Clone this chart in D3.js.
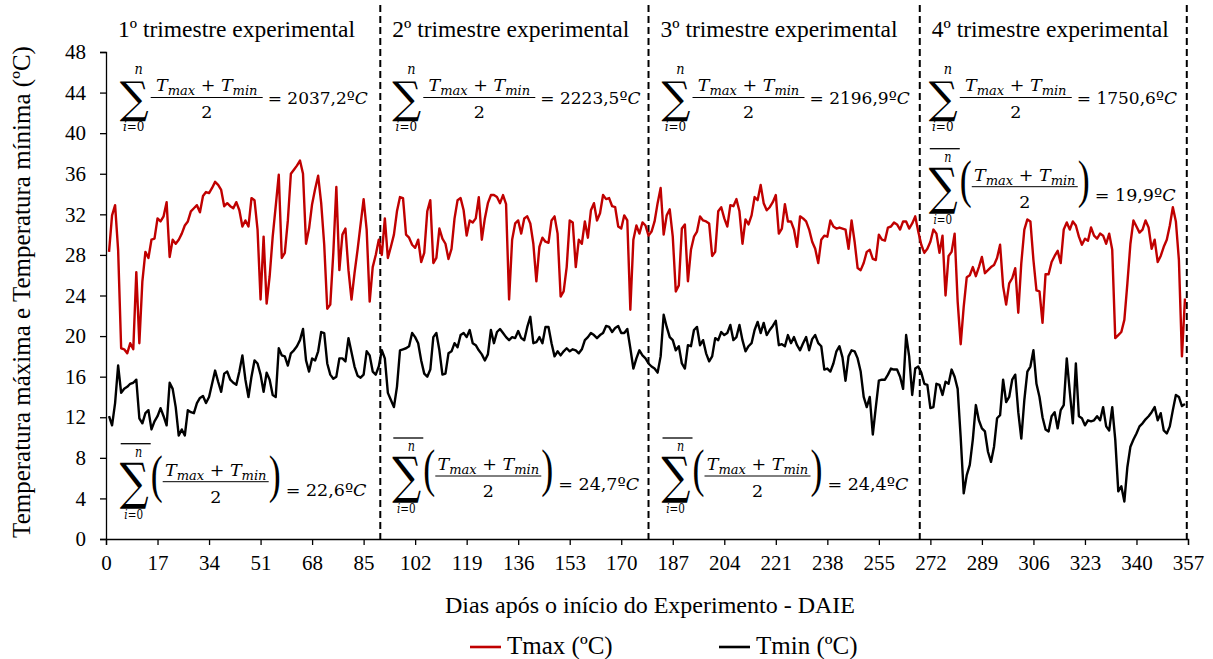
<!DOCTYPE html>
<html><head><meta charset="utf-8">
<script src="https://cdn.jsdelivr.net/npm/d3@7"></script>
<style>body{margin:0;background:#fff}svg{display:block}</style>
</head><body>
<svg id="chart" width="1213" height="659"></svg>
<script>
// ---------------- DATA ----------------
// Daily values, day 1 .. 356
const tmax = [
28.3,31.9,32.9,28.5,18.8,18.7,18.3,19.3,18.7,26.3,
19.3,25.4,28.3,27.7,29.5,29.6,31.6,31.3,31.8,33.2,
27.8,29.5,29.1,29.5,30.1,30.9,31.3,32.3,32.6,32.9,
32.2,33.8,34.2,34.1,34.6,35.2,34.9,34.4,32.8,33.1,
32.8,32.6,33.2,32.4,30.8,31.4,30.8,33.6,33.4,30.5,
23.6,29.8,23.2,25.9,29.8,32.8,35.9,27.7,28.2,31.4,
36.0,36.4,36.8,37.3,36.0,29.1,30.6,33.0,34.5,35.8,
33.1,29.0,22.7,23.1,28.2,34.7,26.5,30.0,30.6,26.5,
23.6,26.2,28.5,31.0,33.5,30.5,23.4,26.8,28.0,29.5,
28.0,31.6,27.7,28.8,30.0,32.3,33.7,33.6,30.0,29.7,
29.0,28.7,29.5,27.3,28.2,32.3,33.4,27.2,27.7,30.6,
29.6,29.1,27.6,28.6,31.6,33.4,33.6,32.4,29.9,31.4,
31.2,31.6,33.7,29.5,31.6,33.1,33.9,33.9,33.7,33.1,
33.9,33.0,23.6,29.5,31.1,31.4,30.1,31.6,31.8,31.1,
29.1,25.4,28.8,29.7,29.3,29.2,31.4,31.8,30.1,23.9,
24.4,26.8,31.4,31.2,26.8,29.5,29.1,31.3,29.7,32.4,
33.1,31.4,32.1,33.9,33.5,33.6,32.8,32.7,30.8,30.6,
31.9,31.4,22.6,29.5,30.9,30.1,31.2,30.9,29.9,30.3,
31.3,33.1,34.6,30.0,31.9,32.5,29.8,24.4,25.0,30.6,
31.0,25.4,28.5,29.8,30.3,31.8,31.4,31.3,31.1,27.9,
28.3,32.3,32.7,31.6,30.8,32.9,32.8,33.5,32.3,29.1,
31.5,31.0,31.9,33.7,33.4,34.9,33.1,32.4,32.7,33.2,
33.9,30.1,30.6,33.0,31.3,31.3,30.5,28.8,31.8,31.6,
31.3,30.5,29.3,28.6,27.2,29.5,29.9,29.8,31.4,30.8,
30.6,30.7,30.6,30.5,28.6,31.4,29.3,26.7,26.5,27.2,
28.3,28.5,27.6,27.5,30.0,29.5,29.4,30.7,30.8,31.2,
31.0,30.5,31.3,31.3,30.6,31.1,31.8,30.3,29.0,28.2,
28.6,29.3,30.5,30.1,28.2,29.9,24.0,27.9,28.3,30.1,
23.4,19.2,22.9,25.8,26.0,26.8,25.9,26.8,27.8,26.2,
26.5,26.8,27.0,27.7,29.0,24.9,23.1,25.2,25.7,26.7,
22.3,27.2,30.5,31.5,31.3,27.5,24.5,24.4,21.3,26.1,
26.1,27.3,27.9,28.4,27.2,30.5,31.2,30.5,31.3,30.9,
29.8,29.0,29.6,29.4,30.7,29.9,29.6,30.1,29.9,29.1,
30.1,28.5,19.8,20.1,20.4,21.6,25.2,29.1,31.4,30.8,
30.2,30.5,31.4,30.7,28.6,29.5,27.3,27.9,28.8,29.5,
30.9,32.7,31.3,27.5,18.0,23.7
];
const tmin = [
12.1,11.2,13.4,17.1,14.4,14.8,15.0,15.3,15.4,15.7,
11.9,11.4,12.4,12.7,10.8,11.6,12.1,12.9,12.1,11.2,
15.4,14.8,13.0,10.2,10.8,10.2,12.7,12.5,12.4,13.4,
13.9,14.1,13.4,14.0,15.3,16.6,15.5,14.5,16.3,16.5,
15.7,15.4,15.2,16.5,18.1,15.7,14.0,16.0,17.6,17.3,
16.2,14.5,16.4,15.7,14.2,14.0,18.8,18.1,18.0,17.1,
18.3,18.6,19.0,19.6,20.7,17.6,16.5,17.8,17.6,18.5,
20.4,20.3,17.3,16.2,15.8,16.0,17.8,17.8,17.5,19.8,
18.4,17.0,16.1,15.9,16.2,18.5,18.1,16.5,16.2,17.0,
18.6,17.8,14.4,13.7,13.0,15.0,18.6,18.7,18.8,19.0,
20.3,19.9,19.3,17.6,16.3,16.0,16.7,19.9,20.3,18.6,
16.2,16.3,18.3,18.5,19.3,18.9,20.1,20.3,19.9,20.6,
19.3,19.1,18.6,18.2,17.6,18.2,20.6,19.3,20.4,20.7,
20.3,19.9,19.6,19.9,19.8,20.5,19.8,19.6,20.9,21.9,
19.3,19.4,19.9,19.3,20.9,20.9,19.3,18.0,18.5,18.1,
18.5,18.8,18.5,18.7,18.6,18.3,18.7,19.6,19.9,20.3,
20.1,19.8,20.1,20.3,21.0,20.9,20.4,20.8,21.0,20.3,
20.3,20.7,18.8,16.8,17.8,18.6,18.1,17.8,17.3,17.0,
16.8,16.4,18.0,22.1,20.9,19.9,19.6,18.6,19.0,17.3,
16.8,19.1,19.0,20.6,20.9,19.1,19.6,18.3,17.5,18.0,
19.8,19.6,20.4,20.1,20.3,21.1,19.6,19.9,21.1,19.6,
18.5,19.0,19.3,20.6,21.4,20.3,21.3,20.1,20.6,21.0,
21.5,19.1,19.2,19.0,20.1,19.3,19.9,19.1,18.6,19.3,
19.9,18.6,19.7,20.1,19.3,19.0,16.7,16.8,16.5,17.3,
18.5,19.0,17.9,15.6,18.0,18.6,18.5,17.8,16.5,14.0,
13.0,14.0,10.3,13.0,15.6,15.7,15.7,16.2,16.8,16.7,
16.7,16.0,14.8,20.1,18.0,14.2,16.8,17.0,16.4,15.3,
15.2,12.9,13.0,15.3,15.2,14.2,15.5,15.3,16.7,16.0,
14.8,10.0,4.5,6.3,7.3,9.8,13.2,11.7,10.9,10.6,
8.6,7.6,9.1,11.9,12.2,15.7,13.5,14.0,15.7,16.2,
12.5,9.9,13.7,16.5,17.0,18.6,15.3,14.0,12.0,10.8,
10.6,12.1,12.5,10.9,12.7,13.2,17.8,14.5,11.4,17.3,
12.1,11.9,11.2,11.7,11.6,11.7,12.1,11.7,13.0,11.1,
10.7,13.0,9.8,4.7,5.2,3.7,7.1,9.1,9.8,10.4,
11.1,11.4,11.8,12.1,12.5,13.0,11.7,12.4,10.7,10.4,
11.1,12.7,14.2,14.0,13.1,13.3
];
const firstDay = 1;
const xTicks = d3.range(0, 358, 17);              // 0,17,...,357
const yTicks = d3.range(0, 49, 4);                // 0..48
const quarterEnds = [90.5, 179, 268.5, 356.6];    // day positions of dashed separators
const quarterTitles = ["1º trimestre experimental","2º trimestre experimental","3º trimestre experimental","4º trimestre experimental"];
const sumValues = ["2037,2ºC","2223,5ºC","2196,9ºC","1750,6ºC"];
const meanValues = ["22,6ºC","24,7ºC","24,4ºC","19,9ºC"];
const seriesNames = ["Tmax (ºC)","Tmin (ºC)"];
const seriesColors = ["#C00000","#000000"];

// ---------------- CHART ----------------
const svg = d3.select("#chart");
const SERIF = "'Liberation Serif','Times New Roman',serif";
const MATH = "'DejaVu Serif',serif";
const x = d3.scaleLinear().domain([0, 357]).range([106, 1188]);
const y = d3.scaleLinear().domain([0, 48]).range([539, 52]);

// axes
const gy = svg.append("g").attr("transform", `translate(${x(0)},0)`)
  .call(d3.axisLeft(y).tickValues(yTicks).tickSize(6).tickPadding(14).tickFormat(d3.format("d")));
const gx = svg.append("g").attr("transform", `translate(0,${y(0)})`)
  .call(d3.axisBottom(x).tickValues(xTicks).tickSize(6).tickPadding(10).tickFormat(d3.format("d")));
[gx, gy].forEach(g => {
  g.selectAll("path,line").attr("stroke", "#000").attr("stroke-width", 1.3);
  g.selectAll("text").attr("font-family", SERIF).attr("font-size", 21).attr("fill", "#000");
});

// axis titles
svg.append("text").attr("transform", `translate(30,292) rotate(-90)`)
  .attr("text-anchor", "middle").attr("font-family", SERIF).attr("font-size", 25)
  .text("Temperatura máxima e Temperatura mínima (ºC)");
svg.append("text").attr("x", 650).attr("y", 613).attr("text-anchor", "middle")
  .attr("font-family", SERIF).attr("font-size", 24)
  .text("Dias após o início do Experimento - DAIE");

// quarter separators
svg.append("g").selectAll("line").data(quarterEnds).join("line")
  .attr("x1", d => x(d)).attr("x2", d => x(d)).attr("y1", 5).attr("y2", y(0))
  .attr("stroke", "#000").attr("stroke-width", 2).attr("stroke-dasharray", "7,4");

// lines
const days = tmax.map((_, i) => i + firstDay);
const line = d3.line().x((d, i) => x(days[i])).y(d => y(d));
[tmax, tmin].forEach((s, k) => {
  svg.append("path").datum(s).attr("d", line).attr("fill", "none")
    .attr("stroke", seriesColors[k]).attr("stroke-width", 2.4).attr("stroke-linejoin", "round");
});

// quarter titles
const qStarts = [0].concat(quarterEnds.slice(0, 3));
svg.append("g").selectAll("text").data(quarterTitles).join("text")
  .attr("x", (d, i) => x(qStarts[i]) + 12).attr("y", 37)
  .attr("font-family", SERIF).attr("font-size", 23.5).text(d => d);

// ---------- formula helpers ----------
function mtext(g, px, py, anchor, parts, size) {
  const t = g.append("text").attr("x", px).attr("y", py).attr("text-anchor", anchor)
    .attr("font-family", MATH).attr("font-size", size).style("white-space", "pre");
  let cur = 0;
  parts.forEach(p => {
    const ts = t.append("tspan").text(p.t);
    if (p.it) ts.attr("font-style", "italic");
    if (p.fs) ts.attr("font-size", p.fs);
    const dy = (p.dy || 0) - cur;
    if (dy) ts.attr("dy", dy);
    cur = p.dy || 0;
  });
  return t;
}
const FS = 17.5, SUB = 13;
const numParts = [{t:"T",it:1},{t:"max",it:1,fs:SUB,dy:4},{t:" + "},{t:"T",it:1},{t:"min",it:1,fs:SUB,dy:4}];
function valueParts(v) { const num = v.replace("ºC","º"); return [{t:"= "+num},{t:"C",it:1}]; }

// summation operator with its limits, as one text element
function sigma(g, x0, yb, mean) {
  const sx = 0.92, sy = mean ? 1.15 : 1;
  const t = g.append("text").attr("transform", `translate(${x0},${yb}) scale(${sx},${sy})`)
    .attr("font-family", MATH).style("white-space", "pre");
  t.append("tspan").attr("x", -1 / sx).attr("y", (mean ? 17 : 15) / sy)
    .attr("font-size", 44).attr("text-anchor", "start").text("∑");
  t.append("tspan").attr("x", 18 / sx).attr("y", -(mean ? 25 : 24) / sy)
    .attr("font-size", 14 / sy).attr("text-anchor", "middle").attr("font-style", "italic").text("n");
  t.append("tspan").attr("x", 13 / sx).attr("y", (mean ? 37 : 34) / sy)
    .attr("font-size", 13 / sy).attr("text-anchor", "middle").attr("font-style", "italic").text("i");
  t.append("tspan").attr("font-size", 13 / sy).text("=0");
}
function sumFormula(x0, yb, v) {
  const g = svg.append("g");
  sigma(g, x0, yb, false);
  const fx0 = x0 + 30, fx1 = x0 + 142, cx = (fx0 + fx1) / 2;
  mtext(g, cx, yb - 7, "middle", numParts, FS);
  g.append("line").attr("x1", fx0).attr("x2", fx1).attr("y1", yb).attr("y2", yb).attr("stroke", "#000").attr("stroke-width", 1);
  mtext(g, cx, yb + 20, "middle", [{t:"2"}], FS);
  mtext(g, fx1 + 5, yb + 6, "start", valueParts(v), 17);
}
function paren(g, px, yb, ch) {
  g.append("text").attr("transform", `translate(${px},${yb + 10}) scale(1,1.45)`)
    .attr("font-family", SERIF).attr("font-size", 36).attr("text-anchor", "middle").text(ch);
}
function meanFormula(x0, yb, v) {
  const g = svg.append("g");
  g.append("line").attr("x1", x0).attr("x2", x0 + 30).attr("y1", yb - 38).attr("y2", yb - 38).attr("stroke", "#000").attr("stroke-width", 1.3);
  sigma(g, x0, yb, true);
  const fx0 = x0 + 42, fx1 = x0 + 148, cx = (fx0 + fx1) / 2;
  paren(g, x0 + 36, yb, "(");
  paren(g, fx1 + 6, yb, ")");
  mtext(g, cx, yb - 6, "middle", numParts, FS);
  g.append("line").attr("x1", fx0).attr("x2", fx1).attr("y1", yb).attr("y2", yb).attr("stroke", "#000").attr("stroke-width", 1);
  mtext(g, cx, yb + 21, "middle", [{t:"2"}], FS);
  mtext(g, fx1 + 17, yb + 14, "start", valueParts(v), FS);
}
const sumX = [14.7, 13, 14, 10];
qStarts.forEach((s, i) => sumFormula(x(s) + sumX[i], 97.5, sumValues[i]));
const meanPos = [[x(0) + 14.7, 481.7], [x(quarterEnds[0]) + 13, 476], [x(quarterEnds[1]) + 14, 476], [x(quarterEnds[2]) + 10, 186.7]];
meanPos.forEach((p, i) => meanFormula(p[0], p[1], meanValues[i]));

// legend
const lg = svg.append("g");
const legX = [470, 719];
seriesNames.forEach((n, k) => {
  lg.append("line").attr("x1", legX[k]).attr("x2", legX[k] + 31).attr("y1", 647).attr("y2", 647)
    .attr("stroke", seriesColors[k]).attr("stroke-width", 2.6);
  lg.append("text").attr("x", legX[k] + 37).attr("y", 654).attr("font-family", SERIF).attr("font-size", 25).text(n);
});
</script>
</body></html>
